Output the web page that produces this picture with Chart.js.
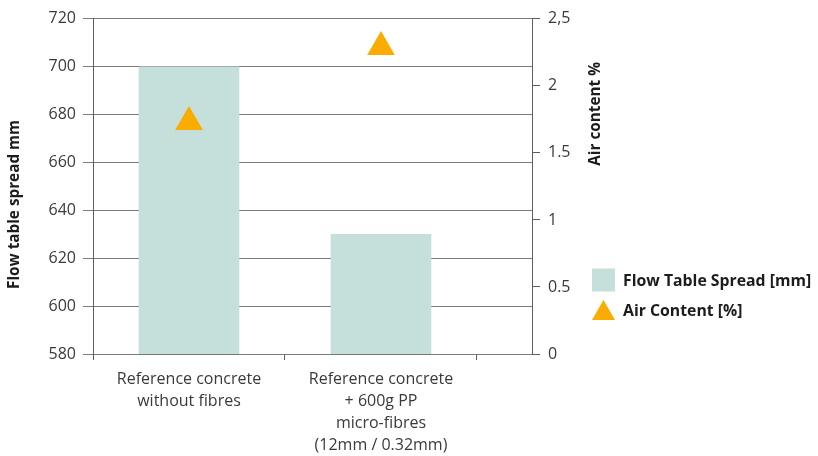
<!DOCTYPE html>
<html>
<head>
<meta charset="utf-8">
<script src="https://cdn.jsdelivr.net/npm/chart.js@4/dist/chart.umd.min.js"></script>
<style>
  html, body { margin: 0; padding: 0; background: #ffffff; }
  #wrap { width: 818px; height: 456px; }
</style>
</head>
<body>
<div id="wrap"><canvas id="chart" width="818" height="456"></canvas></div>
<script>
// Mix designs compared
const categories = [
  ['Reference concrete', 'without fibres'],
  ['Reference concrete', '+ 600g PP', 'micro-fibres', '(12mm / 0.32mm)']
];
// Flow table spread in mm (left axis)
const flowSpread = [700, 630];
// Air content in % (right axis)
const airContent = [1.73, 2.29];
// Axis ticks
const flowTicks = [580, 600, 620, 640, 660, 680, 700, 720];
const airTicks = [0, 0.5, 1, 1.5, 2, 2.5];
const airTickLabels = ['0', '0.5', '1', '1.5', '2', '2,5'];
const seriesNames = ['Flow Table Spread [mm]', 'Air Content [%]'];
const axisTitles = ['Flow table spread mm', 'Air content %'];

const BAR_COLOR = '#c5e0db';
const MARK_COLOR = '#faac00';
const GRID_COLOR = '#7a7a7a';
const AXIS_COLOR = '#5e5e5e';
const TICK_TEXT = '#3a3a3a';
const TITLE_TEXT = '#1c1c1c';
const tickFont = { family: 'Open Sans', size: 16, lineHeight: 1.36 };

// Axis titles and legend drawn beside the plot
const sideText = {
  id: 'sideText',
  afterDraw(chart) {
    const { ctx, chartArea: a } = chart;
    ctx.save();
    ctx.fillStyle = TITLE_TEXT;
    ctx.font = 'bold 15.3px "Open Sans"';
    ctx.textAlign = 'center';
    ctx.textBaseline = 'middle';

    ctx.save();
    ctx.translate(15, (a.top + a.bottom) / 2 + 18);
    ctx.rotate(-Math.PI / 2);
    ctx.fillText(axisTitles[0], 0, 0);
    ctx.restore();

    ctx.save();
    ctx.translate(a.right + 64, a.top + 95);
    ctx.rotate(-Math.PI / 2);
    ctx.fillText(axisTitles[1], 0, 0);
    ctx.restore();

    // legend
    const lx = a.right + 60;
    const ly1 = 280, ly2 = 310;
    ctx.fillStyle = BAR_COLOR;
    ctx.fillRect(lx, ly1 - 11.5, 23, 23);
    ctx.fillStyle = MARK_COLOR;
    ctx.beginPath();
    ctx.moveTo(lx + 11.5, ly2 - 10);
    ctx.lineTo(lx + 23, ly2 + 10);
    ctx.lineTo(lx, ly2 + 10);
    ctx.closePath();
    ctx.fill();
    ctx.fillStyle = TITLE_TEXT;
    ctx.font = 'bold 15.8px "Open Sans"';
    ctx.textAlign = 'left';
    ctx.fillText(seriesNames[0], lx + 31, ly1 + 1);
    ctx.fillText(seriesNames[1], lx + 31, ly2 + 1);
    ctx.restore();
  }
};

new Chart(document.getElementById('chart'), {
  type: 'bar',
  data: {
    datasets: [
      {
        type: 'line',
        label: seriesNames[1],
        data: airContent.map((v, i) => ({ x: i + 0.5, y: v })),
        yAxisID: 'y2',
        showLine: false,
        pointStyle: 'triangle',
        pointRadius: 16,
        pointHoverRadius: 16,
        pointBackgroundColor: MARK_COLOR,
        pointBorderColor: MARK_COLOR,
        pointBorderWidth: 0,
        order: 0
      },
      {
        label: seriesNames[0],
        data: flowSpread.map((v, i) => ({ x: i + 0.5, y: v })),
        yAxisID: 'y',
        backgroundColor: BAR_COLOR,
        barThickness: 100,
        order: 1
      }
    ]
  },
  options: {
    responsive: false,
    animation: false,
    layout: { padding: { top: 10, left: 0, right: 0, bottom: 0 } },
    plugins: { legend: { display: false }, tooltip: { enabled: false } },
    scales: {
      x: {
        type: 'linear',
        position: 'bottom',
        offset: false,
        min: 0,
        max: 2.2865,
        afterBuildTicks: s => { s.ticks = [0, 0.5, 1, 1.5, 2].map(v => ({ value: v })); },
        afterFit: s => { s.height = 102; },
        grid: {
          offset: false,
          drawOnChartArea: false,
          tickLength: 6,
          lineWidth: 1,
          color: c => (c.tick && Number.isInteger(c.tick.value)) ? AXIS_COLOR : 'rgba(0,0,0,0)'
        },
        border: { display: false },
        ticks: {
          autoSkip: false,
          maxRotation: 0,
          padding: 9,
          font: tickFont,
          color: TICK_TEXT,
          callback: v => {
            const i = v - 0.5;
            return Number.isInteger(i) && categories[i] ? categories[i] : '';
          }
        }
      },
      y: {
        position: 'left',
        min: 580,
        max: 720,
        afterBuildTicks: s => { s.ticks = flowTicks.map(v => ({ value: v })); },
        afterFit: s => { s.width = 93; },
        grid: { color: GRID_COLOR, lineWidth: 1, tickLength: 10 },
        border: { color: AXIS_COLOR, width: 1 },
        ticks: { padding: 7, font: tickFont, color: TICK_TEXT }
      },
      y2: {
        position: 'right',
        min: 0,
        max: 2.5,
        afterBuildTicks: s => { s.ticks = airTicks.map(v => ({ value: v })); },
        afterFit: s => { s.width = 286; },
        grid: { drawOnChartArea: false, color: AXIS_COLOR, lineWidth: 1, tickLength: 8 },
        border: { color: AXIS_COLOR, width: 1 },
        ticks: {
          padding: 8,
          font: tickFont,
          color: TICK_TEXT,
          callback: (v, i) => airTickLabels[i]
        }
      }
    }
  },
  plugins: [sideText]
});
</script>
</body>
</html>
